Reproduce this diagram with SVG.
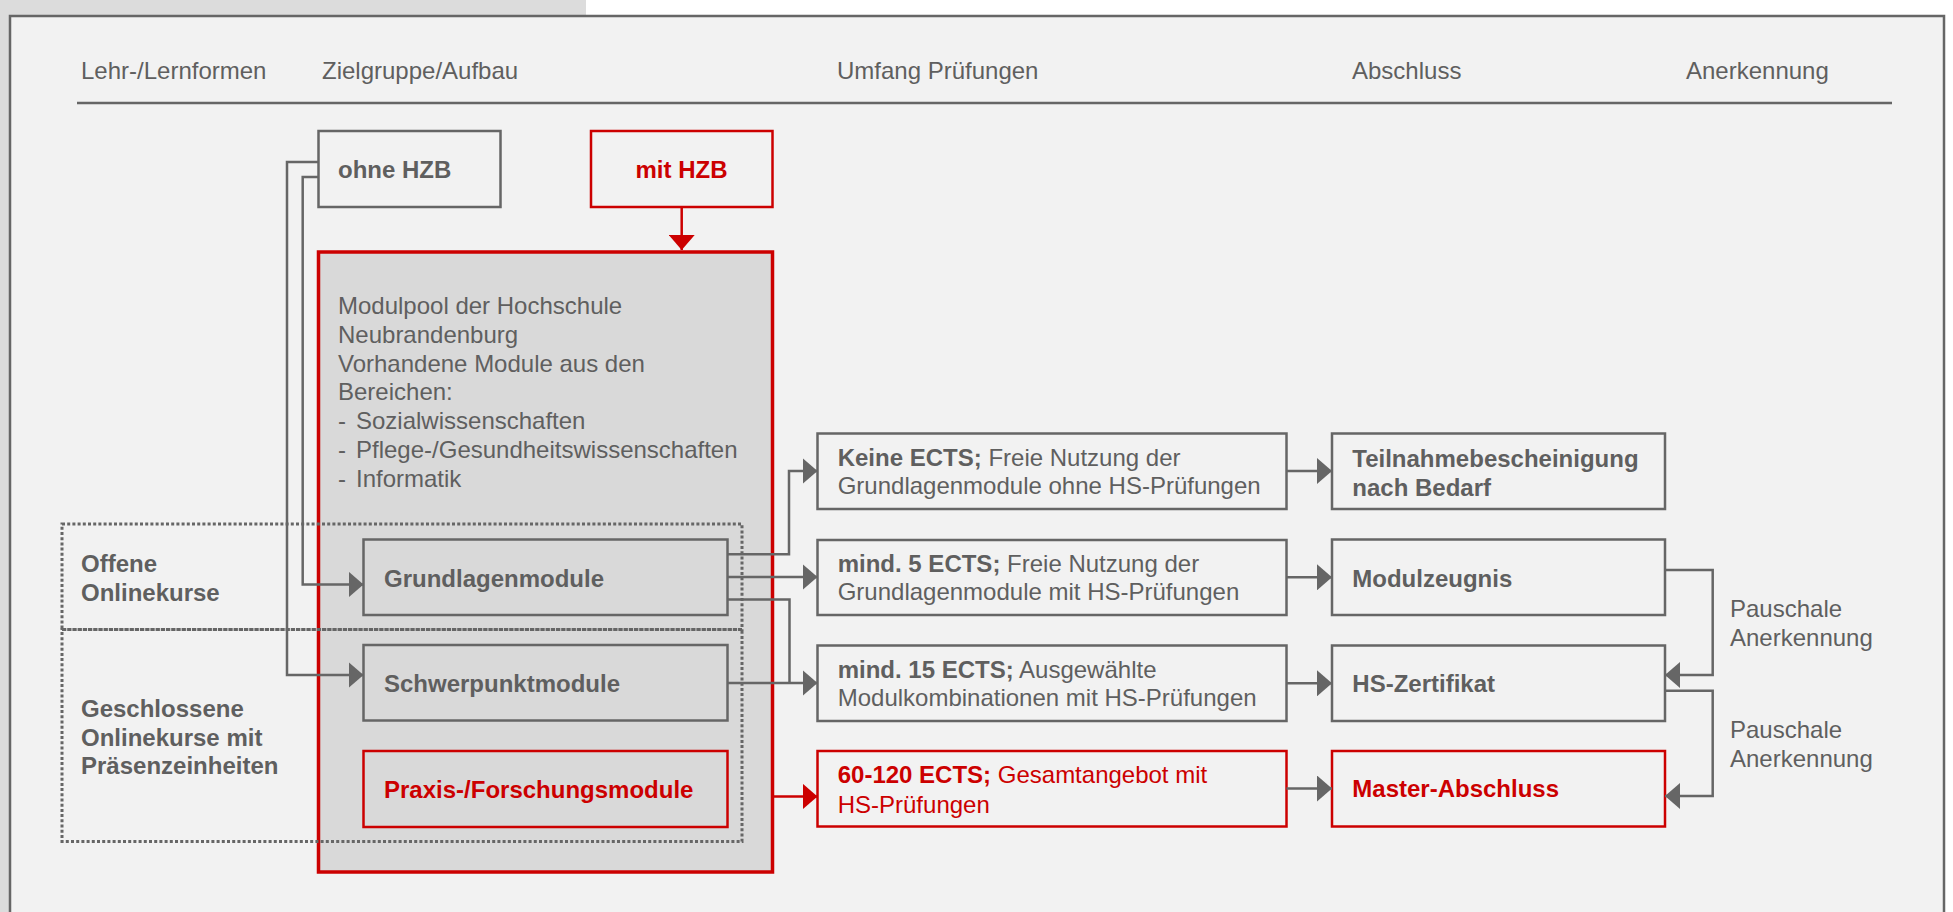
<svg xmlns="http://www.w3.org/2000/svg" width="1953" height="912" viewBox="0 0 1953 912">
<defs>
<style>
text{font-family:"Liberation Sans",Arial,sans-serif;font-size:24px;fill:#5f5f5f}
.b{font-weight:bold}
.r{fill:#cc0000}
.box{fill:#f2f2f2;stroke:#666;stroke-width:2.5}
.dbox{fill:#d9d9d9;stroke:#666;stroke-width:2.5}
.rbox{fill:#f2f2f2;stroke:#cc0000;stroke-width:2.5}
.rdbox{fill:#d9d9d9;stroke:#cc0000;stroke-width:2.5}
.ln{fill:none;stroke:#666;stroke-width:2.5}
.rln{fill:none;stroke:#cc0000;stroke-width:2.5}
.dot{fill:none;stroke:#666;stroke-width:3;stroke-dasharray:3 2.2}
</style>
<marker id="ag" markerUnits="userSpaceOnUse" viewBox="0 0 15 26" markerWidth="15" markerHeight="26" refX="15" refY="13" orient="auto"><path d="M0,0 L15,13 L0,26 Z" fill="#666"/></marker>
<marker id="ar" markerUnits="userSpaceOnUse" viewBox="0 0 15 26" markerWidth="15" markerHeight="26" refX="15" refY="13" orient="auto"><path d="M0,0 L15,13 L0,26 Z" fill="#cc0000"/></marker>
</defs>
<rect x="0" y="0" width="1953" height="912" fill="#ffffff"/>
<rect x="0" y="0" width="586" height="16" fill="#dcdcdc"/>
<rect x="0" y="0" width="10" height="912" fill="#dcdcdc"/>
<rect x="10" y="16" width="1934" height="910" fill="#f2f2f2" stroke="#666" stroke-width="2.5"/>

<g id="header">
<text x="81" y="79">Lehr-/Lernformen</text>
<text x="322" y="79">Zielgruppe/Aufbau</text>
<text x="837" y="79">Umfang Prüfungen</text>
<text x="1352" y="79">Abschluss</text>
<text x="1686" y="79">Anerkennung</text>
<line x1="77" y1="103" x2="1892" y2="103" stroke="#666" stroke-width="2.5"/>
</g>

<g id="modulpool">
<rect x="318.5" y="252" width="454" height="620" fill="#d9d9d9" stroke="#cc0000" stroke-width="3.5"/>
<text x="338" y="314">Modulpool der Hochschule</text>
<text x="338" y="342.8">Neubrandenburg</text>
<text x="338" y="371.6">Vorhandene Module aus den</text>
<text x="338" y="400.4">Bereichen:</text>
<text y="429.2"><tspan x="338">-</tspan><tspan x="356">Sozialwissenschaften</tspan></text>
<text y="458"><tspan x="338">-</tspan><tspan x="356">Pflege-/Gesundheitswissenschaften</tspan></text>
<text y="486.8"><tspan x="338">-</tspan><tspan x="356">Informatik</tspan></text>
</g>

<g id="offene-onlinekurse">
<rect class="dot" x="62" y="524" width="680" height="105.5"/>
<text class="b" x="81" y="571.7">Offene</text>
<text class="b" x="81" y="600.5">Onlinekurse</text>
</g>
<g id="geschlossene-onlinekurse">
<rect class="dot" x="62" y="629.5" width="680" height="212"/>
<text class="b" x="81" y="716.7">Geschlossene</text>
<text class="b" x="81" y="745.5">Onlinekurse mit</text>
<text class="b" x="81" y="774.3">Präsenzeinheiten</text>
</g>

<g id="ohne-hzb">
<rect class="box" x="318.5" y="131" width="182" height="76"/>
<text class="b" x="338" y="178">ohne HZB</text>
</g>
<g id="mit-hzb">
<rect class="rbox" x="591" y="131" width="181.5" height="76"/>
<text class="b r" x="681.5" y="178" text-anchor="middle">mit HZB</text>
</g>

<g id="grundlagenmodule">
<rect class="dbox" x="363.5" y="539.5" width="364" height="75.5"/>
<text class="b" x="384" y="587.3">Grundlagenmodule</text>
</g>
<g id="schwerpunktmodule">
<rect class="dbox" x="363.5" y="645" width="364" height="75.5"/>
<text class="b" x="384" y="691.7">Schwerpunktmodule</text>
</g>
<g id="praxismodule">
<rect class="rdbox" x="363.5" y="751" width="364" height="76"/>
<text class="b r" x="384" y="798">Praxis-/Forschungsmodule</text>
</g>

<g id="keine-ects">
<rect class="box" x="817.5" y="433.5" width="469" height="75.5"/>
<text x="837.7" y="465.7"><tspan class="b">Keine ECTS;</tspan> Freie Nutzung der</text>
<text x="837.7" y="494.2">Grundlagenmodule ohne HS-Prüfungen</text>
</g>
<g id="mind-5-ects">
<rect class="box" x="817.5" y="540" width="469" height="75"/>
<text x="837.7" y="571.7"><tspan class="b">mind. 5 ECTS;</tspan> Freie Nutzung der</text>
<text x="837.7" y="600.2">Grundlagenmodule mit HS-Prüfungen</text>
</g>
<g id="mind-15-ects">
<rect class="box" x="817.5" y="645.5" width="469" height="75.5"/>
<text x="837.7" y="677.5"><tspan class="b">mind. 15 ECTS;</tspan> Ausgewählte</text>
<text x="837.7" y="706.2">Modulkombinationen mit HS-Prüfungen</text>
</g>
<g id="ects-60-120">
<rect class="rbox" x="817.5" y="751" width="469" height="75.5"/>
<text class="r" x="837.7" y="783.3"><tspan class="b">60-120 ECTS;</tspan> Gesamtangebot mit</text>
<text class="r" x="837.7" y="812.5">HS-Prüfungen</text>
</g>

<g id="teilnahmebescheinigung">
<rect class="box" x="1332" y="433.5" width="333" height="75.5"/>
<text class="b" x="1352.3" y="466.7">Teilnahmebescheinigung</text>
<text class="b" x="1352.3" y="495.8">nach Bedarf</text>
</g>
<g id="modulzeugnis">
<rect class="box" x="1332" y="539.5" width="333" height="75.5"/>
<text class="b" x="1352.3" y="586.7">Modulzeugnis</text>
</g>
<g id="hs-zertifikat">
<rect class="box" x="1332" y="645.5" width="333" height="75.5"/>
<text class="b" x="1352.3" y="691.7">HS-Zertifikat</text>
</g>
<g id="master-abschluss">
<rect class="rbox" x="1332" y="751" width="333" height="75.5"/>
<text class="b r" x="1352.3" y="797.3">Master-Abschluss</text>
</g>

<g id="labels">
<text x="1730" y="616.7">Pauschale</text>
<text x="1730" y="645.5">Anerkennung</text>
<text x="1730" y="738">Pauschale</text>
<text x="1730" y="766.8">Anerkennung</text>
</g>

<g id="connectors">
<path class="rln" d="M681.7,207 L681.7,250" marker-end="url(#ar)"/>
<path class="ln" d="M318.5,162 L287,162 L287,675 L363.5,675" marker-end="url(#ag)"/>
<path class="ln" d="M318.5,177 L302.7,177 L302.7,584.5 L363.5,584.5" marker-end="url(#ag)"/>
<path class="ln" d="M727.5,554.3 L789,554.3 L789,471 L817.5,471" marker-end="url(#ag)"/>
<path class="ln" d="M727.5,577 L817.5,577" marker-end="url(#ag)"/>
<path class="ln" d="M727.5,599.5 L789.5,599.5 L789.5,683"/>
<path class="ln" d="M727.5,683 L817.5,683" marker-end="url(#ag)"/>
<path class="rln" d="M773,796.5 L817.5,796.5" marker-end="url(#ar)"/>
<path class="ln" d="M1286.5,471 L1332,471" marker-end="url(#ag)"/>
<path class="ln" d="M1286.5,577.3 L1332,577.3" marker-end="url(#ag)"/>
<path class="ln" d="M1286.5,683.3 L1332,683.3" marker-end="url(#ag)"/>
<path class="ln" d="M1286.5,788.5 L1332,788.5" marker-end="url(#ag)"/>
<path class="ln" d="M1665,570 L1712.7,570 L1712.7,675 L1665,675" marker-end="url(#ag)"/>
<path class="ln" d="M1665,690.7 L1712.7,690.7 L1712.7,796 L1665,796" marker-end="url(#ag)"/>
</g>
</svg>
